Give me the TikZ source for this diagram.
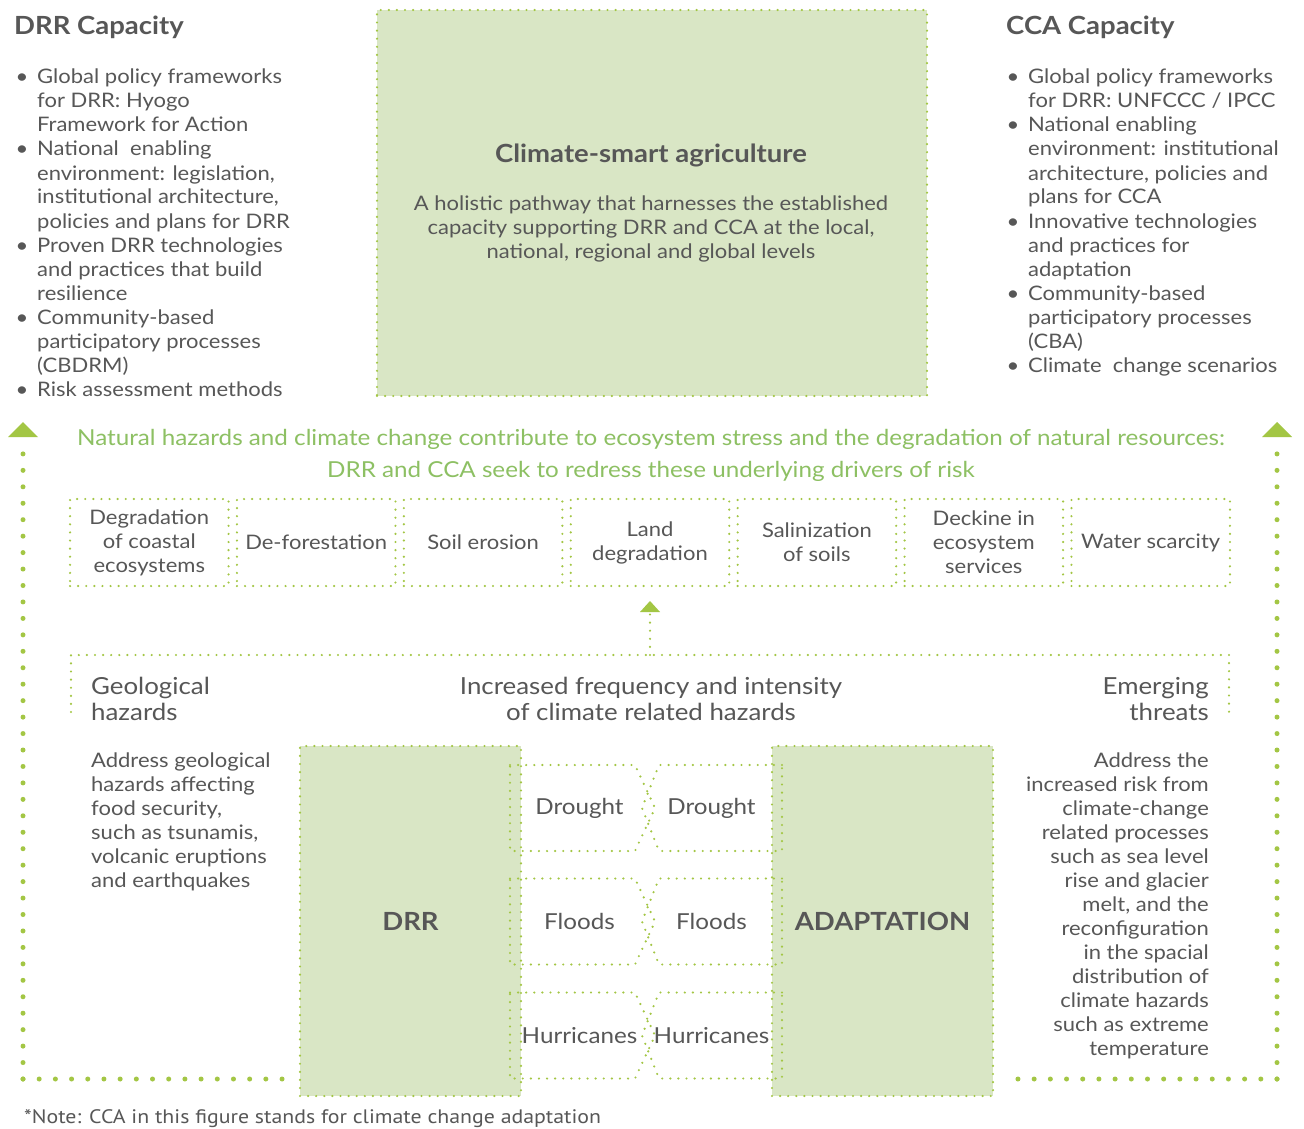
\documentclass[tikz,border=0pt]{standalone}
\usepackage{fontspec}
\setmainfont{Lato}[FakeStretch=1.1]
\newfontfamily\notefont{PT Sans}[FakeStretch=1.12]
\definecolor{dotg}{HTML}{A3C644}
\definecolor{fillg}{HTML}{D9E6C5}
\definecolor{txt}{HTML}{575757}
\definecolor{gtxt}{HTML}{8DC063}
\tikzset{
  sdot/.style={draw=dotg, line width=2.4pt, line cap=round, dash pattern=on 0pt off 8.1pt},
  bdot/.style={draw=dotg, line width=5pt, line cap=round, dash pattern=on 0pt off 16.45pt},
  hdot/.style={draw=dotg, line width=5pt, line cap=round, dash pattern=on 0pt off 16.19pt},
  gbox/.style={sdot, fill=fillg},
  tx/.style={text=txt, inner sep=0pt, font=\fontsize{20}{24}\selectfont},
  tbig/.style={text=txt, inner sep=0pt, font=\fontsize{23.5}{26}\selectfont},
  thz/.style={text=txt, inner sep=0pt, font=\fontsize{22}{24}\selectfont},
  head/.style={text=txt, inner sep=0pt, font=\fontsize{25}{30}\selectfont\bfseries},
  gtx/.style={text=gtxt, inner sep=0pt, font=\fontsize{22}{32}\selectfont},
}
\begin{document}
\begin{tikzpicture}[x=1pt,y=-1pt]
\fill[white] (0,0) rectangle (1304,1129);
\useasboundingbox (0,0) rectangle (1304,1129);

% ---------- top left list
\node[head, anchor=base west] (drrcap) at (14,35) {DRR Capacity};
\foreach \i/\t in {0/{Global policy frameworks},1/{for DRR: Hyogo},2/{Framework for Action},3/{National\ \ enabling},4/{environment: legislation,},5/{institutional architecture,},6/{policies and plans for DRR},7/{Proven DRR technologies},8/{and practices that build},9/{resilience},10/{Community-based},11/{participatory processes},12/{(CBDRM)},13/{Risk assessment methods}}
  \node[tx, anchor=base west] (ll\i) at (37,{84+24*\i}) {\t};
\foreach \i in {0,3,7,10,13}
  \node[tx, anchor=base] (lb\i) at (22,{84+24*\i}) {•};

% ---------- top right list
\node[head, anchor=base west] (ccacap) at (1006,35) {CCA Capacity};
\foreach \i/\t in {0/{Global policy frameworks},1/{for DRR: UNFCCC / IPCC},2/{National enabling},3/{environment: institutional},4/{architecture, policies and},5/{plans for CCA},6/{Innovative technologies},7/{and practices for},8/{adaptation},9/{Community-based},10/{participatory processes},11/{(CBA)},12/{Climate\ \ change scenarios}}
  \node[tx, anchor=base west] (rl\i) at (1028,{84+24*\i}) {\t};
\foreach \i in {0,2,6,9,12}
  \node[tx, anchor=base] (rb\i) at (1013,{84+24*\i}) {•};

% ---------- climate-smart agriculture box
\node[gbox, minimum width=550pt, minimum height=386pt] (csa) at (652,203) {};
\node[text=txt, inner sep=0pt, font=\fontsize{25}{28}\selectfont\bfseries] (csat) at (651,155) {Climate-smart agriculture};
\node[tx, align=center] (csab) at (651,229) {A holistic pathway that harnesses the established\\capacity supporting DRR and CCA at the local,\\national, regional and global levels};

% ---------- green statement
\node[gtx] (g1) at (651,439) {Natural hazards and climate change contribute to ecosystem stress and the degradation of natural resources:};
\node[gtx] (g2) at (651,471) {DRR and CCA seek to redress these underlying drivers of risk};

% ---------- seven drivers
\foreach \i in {0,...,6}
  \node[sdot, minimum width=158.5pt, minimum height=87pt, inner sep=0pt] (d\i) at ({149.3+166.9*\i},542.5) {};
\foreach \i/\t in {0/{Degradation\\of coastal\\ecosystems},1/{De-forestation},2/{Soil erosion},3/{Land\\degradation},4/{Salinization\\of soils},5/{Deckine in\\ecosystem\\services},6/{Water scarcity}}
  \node[tx, align=center] (dt\i) at (d\i.center) {\t};

% ---------- hazard panel
\coordinate (hpbl) at (71,712);
\coordinate (hptl) at (71,655);
\coordinate (hptr) at (1229,655);
\coordinate (hpbr) at (1229,712);
\coordinate (hptm) at (650,655);
\coordinate (sat) at (650,612);
\draw[sdot] (hpbl) -- (hptl) -- (hptr) -- (hpbr);
\draw[sdot] (hptm) -- (sat);
\fill[dotg] (sat) ++(-10,0) -- ++(20,0) -- ++(-10,-11) -- cycle;

\node[tbig, align=left, anchor=west] (geo) at (91,699) {Geological\\hazards};
\node[tbig, align=center] (inc) at (651,699) {Increased frequency and intensity\\of climate related hazards};
\node[tbig, align=right, anchor=east] (emg) at (1209,699) {Emerging\\threats};

\node[tx, align=left, anchor=west] (geot) at (91,822) {Address geological\\hazards affecting\\food security,\\such as tsunamis,\\volcanic eruptions\\and earthquakes};
\node[tx, align=right, anchor=east] (emgt) at (1209,906) {Address the\\increased risk from\\climate-change\\related processes\\such as sea level\\rise and glacier\\melt, and the\\reconfiguration\\in the spacial\\distribution of\\climate hazards\\such as extreme\\temperature};

% ---------- DRR and ADAPTATION
\node[gbox, minimum width=221pt, minimum height=350pt] (drr) at (410.5,921) {};
\node[gbox, minimum width=221pt, minimum height=350pt] (ada) at (882.5,921) {};
\node[head] (drrt) at (410.5,921) {DRR};
\node[head] (adat) at (882.5,921) {ADAPTATION};

% ---------- hazard pairs
\foreach \n/\yc/\t in {a/808/Drought,b/921.5/Floods,c/1035.5/Hurricanes}{
  \draw[sdot] (510,\yc-43) -- (635,\yc-43) -- (655,\yc) -- (635,\yc+43) -- (510,\yc+43) -- cycle;
  \draw[sdot] (782,\yc-43) -- (659,\yc-43) -- (642,\yc) -- (659,\yc+43) -- (782,\yc+43) -- cycle;
  \node[thz] (hl\n) at (579.5,\yc) {\t};
  \node[thz] (hr\n) at (711.5,\yc) {\t};
}

% ---------- big arrows
\coordinate (lac) at (23,1079);
\coordinate (lat) at (23,450);
\coordinate (lah) at (282.1,1079);
\coordinate (ltri) at (23,437);
\coordinate (rac) at (1277,1079);
\coordinate (rat) at (1277,450);
\coordinate (rah) at (1017.9,1079);
\coordinate (rtri) at (1277,437);
\draw[bdot] (lac) -- (lat);
\draw[hdot] (lac) -- (lah);
\draw[bdot] (rac) -- (rat);
\draw[hdot] (rac) -- (rah);
\fill[dotg] (ltri) ++(-15,0) -- ++(30,0) -- ++(-15,-15) -- cycle;
\fill[dotg] (rtri) ++(-15,0) -- ++(30,0) -- ++(-15,-15) -- cycle;

% ---------- note
\node[text=txt, inner sep=0pt, anchor=base west, font=\notefont\fontsize{19.5}{22}\selectfont] (note) at (24,1123) {*Note: CCA in this figure stands for climate change adaptation};
\end{tikzpicture}
\end{document}
